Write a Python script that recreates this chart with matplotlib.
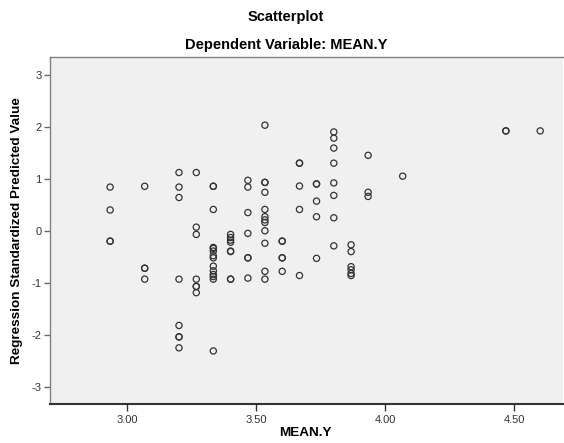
import matplotlib
matplotlib.use("Agg")
import matplotlib.pyplot as plt

plt.rcParams['font.family'] = ['Liberation Sans', 'DejaVu Sans']

# Data: MEAN.Y vs regression standardized predicted value
mean_y = (
    [2.933] * 4 +
    [3.067] * 4 +
    [3.200] * 8 +
    [3.267] * 7 +
    [3.333] * 14 +
    [3.400] * 8 +
    [3.467] * 7 +
    [3.533] * 12 +
    [3.600] * 5 +
    [3.667] * 5 +
    [3.733] * 5 +
    [3.800] * 8 +
    [3.867] * 6 +
    [3.933] * 3 +
    [4.067] * 1 +
    [4.467] * 2 +
    [4.600] * 1
)
pred = (
    [0.84, 0.40, -0.20, -0.20] +
    [0.855, -0.72, -0.72, -0.93] +
    [1.12, 0.84, 0.64, -0.93, -1.82, -2.04, -2.04, -2.25] +
    [1.12, 0.07, -0.07, -0.93, -1.07, -1.07, -1.19] +
    [0.855, 0.855, 0.41, -0.32, -0.34, -0.39, -0.48, -0.52, -0.68, -0.77, -0.84, -0.88, -0.93, -2.31] +
    [-0.07, -0.13, -0.18, -0.22, -0.39, -0.40, -0.93, -0.93] +
    [0.97, 0.84, 0.35, -0.05, -0.52, -0.52, -0.91] +
    [2.03, 0.93, 0.93, 0.74, 0.41, 0.27, 0.21, 0.16, 0.0, -0.24, -0.78, -0.93] +
    [-0.20, -0.20, -0.52, -0.52, -0.78] +
    [1.30, 1.30, 0.86, 0.41, -0.86] +
    [0.90, 0.90, 0.57, 0.27, -0.53] +
    [1.90, 1.78, 1.59, 1.30, 0.92, 0.68, 0.25, -0.29] +
    [-0.27, -0.40, -0.69, -0.75, -0.82, -0.86] +
    [1.45, 0.74, 0.66] +
    [1.05] +
    [1.92, 1.92] +
    [1.92]
)

x_ticks = [3.00, 3.50, 4.00, 4.50]
x_tick_labels = ["3.00", "3.50", "4.00", "4.50"]
y_ticks = [-3, -2, -1, 0, 1, 2, 3]
y_tick_labels = ["-3", "-2", "-1", "0", "1", "2", "3"]

W, H = 564, 443
fig = plt.figure(figsize=(W / 100, H / 100), dpi=100)
ax = fig.add_axes([50 / W, 1 - 404 / H, 513 / W, (404 - 57.3) / H])
ax.set_facecolor("#f0f0f0")

ax.scatter(mean_y, pred, s=20, facecolors="none", edgecolors="#333333",
           linewidths=0.9, zorder=3)

ax.set_xlim(2.70, 2.70 + 513 / 258)
ax.set_ylim(-3.33, 3.335)

ax.set_xticks(x_ticks)
ax.set_xticklabels(x_tick_labels)
ax.set_yticks(y_ticks)
ax.set_yticklabels(y_tick_labels)

ax.tick_params(axis="x", direction="out", length=5, width=1, color="#333333",
               labelsize=8, labelcolor="#333333", pad=3)
ax.tick_params(axis="y", direction="out", length=4, width=1, color="#666666",
               labelsize=8, labelcolor="#333333", pad=2)

ax.spines["right"].set_visible(False)
ax.spines["top"].set_color("#808080")
ax.spines["top"].set_linewidth(1.0)
ax.spines["left"].set_color("#808080")
ax.spines["left"].set_linewidth(1.0)
ax.spines["bottom"].set_color("#333333")
ax.spines["bottom"].set_linewidth(1.5)

fig.text(305 / W, 1 - 433 / H, "MEAN.Y", ha="center", va="center",
         fontsize=9.7, fontweight="bold")
fig.text(17 / W, 1 - 231 / H, "Regression Standardized Predicted Value",
         ha="center", va="center", rotation=90, fontsize=9.7, fontweight="bold")

fig.text(286 / W, 1 - 17 / H, "Scatterplot", ha="center", va="center",
         fontsize=10.5, fontweight="bold")
fig.text(286 / W, 1 - 45 / H, "Dependent Variable: MEAN.Y", ha="center",
         va="center", fontsize=10.5, fontweight="bold")

fig.savefig("out.png", dpi=100)
